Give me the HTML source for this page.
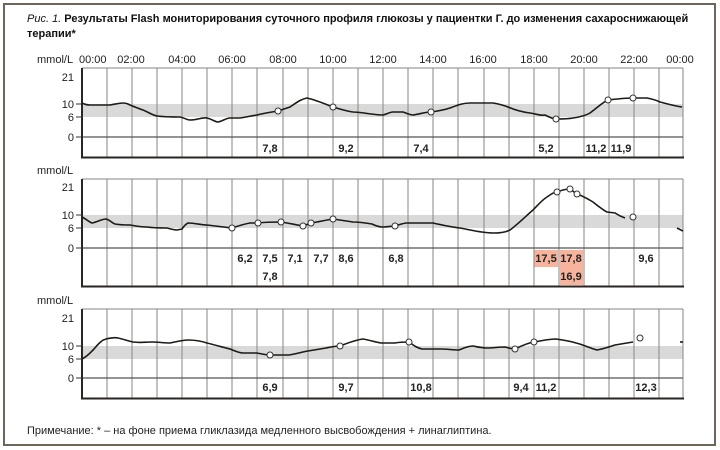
<!DOCTYPE html>
<html><head><meta charset="utf-8"><style>
html,body{margin:0;padding:0;background:#fff;}
svg{display:block;font-family:"Liberation Sans",Arial,sans-serif;}
</style></head><body>
<svg width="720" height="450" viewBox="0 0 720 450" xmlns="http://www.w3.org/2000/svg">
<rect x="4" y="4" width="711" height="441" fill="#fff" stroke="#6e665a" stroke-width="2"/>
<text x="27" y="22" font-size="11" fill="#111"><tspan font-style="italic">Рис. 1.</tspan><tspan font-weight="bold"> Результаты Flash мониторирования суточного профиля глюкозы у пациентки Г. до изменения сахароснижающей</tspan></text>
<text x="27" y="37" font-size="11" font-weight="bold" fill="#111">терапии*</text>
<g font-size="11" fill="#222">
<text x="37" y="63">mmol/L</text>
<text x="79" y="63">00:00</text>
<text x="131" y="63" text-anchor="middle">02:00</text>
<text x="182" y="63" text-anchor="middle">04:00</text>
<text x="232" y="63" text-anchor="middle">06:00</text>
<text x="283" y="63" text-anchor="middle">08:00</text>
<text x="333" y="63" text-anchor="middle">10:00</text>
<text x="383" y="63" text-anchor="middle">12:00</text>
<text x="433" y="63" text-anchor="middle">14:00</text>
<text x="483" y="63" text-anchor="middle">16:00</text>
<text x="534" y="63" text-anchor="middle">18:00</text>
<text x="584" y="63" text-anchor="middle">20:00</text>
<text x="634" y="63" text-anchor="middle">22:00</text>
<text x="680" y="63" text-anchor="middle">00:00</text>
<text x="37" y="174">mmol/L</text>
<text x="37" y="304">mmol/L</text>
</g>

<!-- PANEL 1 -->
<g>
<rect x="83" y="104" width="600" height="13" fill="#d9d9d9"/>
<g stroke="#8a8580" stroke-width="1">
<path d="M107 68V157M132 68V157M157 68V157M182 68V157M207 68V157M232 68V157M257 68V157M283 68V157M308 68V157M333 68V157M358 68V157M383 68V157M408 68V157M433 68V157M458 68V157M484 68V157M509 68V157M534 68V157M559 68V157M584 68V157M609 68V157M634 68V157M659 68V157M683 68V157"/>
<path d="M82 68H683"/>
</g>
<path d="M82 137H683" stroke="#555" stroke-width="1.3"/>
<path d="M82 68V158M81 157.5H684" stroke="#2a2520" stroke-width="2" fill="none"/>
<path d="M76 104H82M76 117H82M76 137H82" stroke="#333" stroke-width="1"/>
<g font-size="11" fill="#222" text-anchor="end"><text x="74" y="81">21</text><text x="74" y="108">10</text><text x="74" y="121">6</text><text x="74" y="141">0</text></g>
<path d="M82 103 C86 105 88 105 90 105 L110 105 C116 104 120 103 123 103 C127 103 128 104 130 105 C135 107 140 109 143 110 C148 112 152 115 157 116 C165 117 173 117 180 117 C185 118 187 120 190 120 C197 120 203 117 207 118 C212 119 215 122 218 122 C223 121 226 118 230 118 L240 118 C246 117 251 116 257 115 C265 113 272 112 278 111 C284 109 287 108 290 107 C296 103 301 99 307 98 C316 100 325 104 333 107 C340 109 346 111 353 112 C362 112 372 115 383 115 C387 114 390 112 393 112 L403 112 C406 113 410 115 413 115 C420 114 425 112 431 112 C438 111 444 110 450 108 C458 105 463 103 470 103 L493 103 C499 104 503 105 508 107 C515 110 522 112 530 113 C537 114 541 116 545 115 C549 117 553 119 556 119 C563 119 568 119 573 118 C580 117 585 116 590 113 C597 108 603 102 608 100 C617 99 625 98 633 98 L647 98 C652 99 656 100 660 102 C668 104 675 106 682 107" fill="none" stroke="#1e1a15" stroke-width="1.6"/>
<g fill="#fff" stroke="#333" stroke-width="1"><circle cx="278" cy="111" r="3"/><circle cx="333" cy="107" r="3"/><circle cx="431" cy="112" r="3"/><circle cx="556" cy="119" r="3"/><circle cx="608" cy="100" r="3"/><circle cx="633" cy="98" r="3"/></g>
<g font-size="11" font-weight="bold" fill="#222" text-anchor="middle"><text x="270" y="152">7,8</text><text x="346" y="152">9,2</text><text x="421" y="152">7,4</text><text x="546" y="152">5,2</text><text x="596" y="152">11,2</text><text x="621" y="152">11,9</text></g>
</g>

<!-- PANEL 2 -->
<g>
<rect x="83" y="215" width="600" height="13" fill="#d9d9d9"/>
<rect x="534" y="250" width="24" height="17" fill="#f7b39c"/>
<rect x="560" y="250" width="23" height="35" fill="#f7b39c"/>
<g stroke="#8a8580" stroke-width="1">
<path d="M107 179V286M132 179V286M157 179V286M182 179V286M207 179V286M232 179V286M257 179V286M283 179V286M308 179V286M333 179V286M358 179V286M383 179V286M408 179V286M433 179V286M458 179V286M484 179V286M509 179V286M534 179V286M559 179V286M584 179V286M609 179V286M634 179V286M659 179V286M683 179V286"/>
<path d="M82 179H683"/>
</g>
<path d="M82 248H683" stroke="#555" stroke-width="1.3"/>
<path d="M82 179V287M81 286.5H684" stroke="#2a2520" stroke-width="2" fill="none"/>
<path d="M76 215H82M76 228H82M76 248H82" stroke="#333" stroke-width="1"/>
<g font-size="11" fill="#222" text-anchor="end"><text x="74" y="191">21</text><text x="74" y="219">10</text><text x="74" y="232">6</text><text x="74" y="252">0</text></g>
<path d="M82 217 C86 219 89 222 92 223 C97 222 102 219 106 219 C110 220 112 223 115 224 C120 225 125 225 130 225 C136 226 141 227 147 227 C154 228 161 228 167 228 C171 229 174 230 177 230 L182 229 C184 226 186 224 188 223 C195 223 201 225 207 225 C215 226 224 227 232 228 C238 226 244 224 250 223 L258 223 C266 222 274 222 281 222 C289 223 296 225 303 226 C306 225 308 224 311 223 C318 222 326 220 333 219 C340 220 346 221 353 222 C360 222 366 223 372 224 C376 226 380 227 383 227 C388 227 391 226 395 226 C399 225 403 223 407 223 L433 223 C442 225 451 227 460 228 C471 230 482 233 493 233 C500 233 506 232 510 230 C518 224 526 216 533 210 C538 205 542 200 547 197 C551 194 554 192 557 192 C562 190 566 189 570 189 C573 191 575 193 577 194 C583 196 588 199 593 202 C598 206 603 210 607 212 L615 213 C618 215 622 217 625 218" fill="none" stroke="#1e1a15" stroke-width="1.6"/>
<path d="M677 228 L683 231" stroke="#1e1a15" stroke-width="1.6"/>
<g fill="#fff" stroke="#333" stroke-width="1"><circle cx="232" cy="228" r="3"/><circle cx="258" cy="223" r="3"/><circle cx="281" cy="222" r="3"/><circle cx="303" cy="226" r="3"/><circle cx="311" cy="223" r="3"/><circle cx="333" cy="219" r="3"/><circle cx="395" cy="226" r="3"/><circle cx="557" cy="192" r="3"/><circle cx="570" cy="189" r="3"/><circle cx="577" cy="194" r="3"/><circle cx="633" cy="217" r="3"/></g>
<g font-size="11" font-weight="bold" fill="#222" text-anchor="middle"><text x="245" y="262">6,2</text><text x="270" y="262">7,5</text><text x="270" y="280">7,8</text><text x="295" y="262">7,1</text><text x="321" y="262">7,7</text><text x="346" y="262">8,6</text><text x="396" y="262">6,8</text><text x="546" y="262">17,5</text><text x="571" y="262">17,8</text><text x="571" y="280">16,9</text><text x="646" y="262">9,6</text></g>
</g>

<!-- PANEL 3 -->
<g>
<rect x="83" y="346" width="600" height="13" fill="#d9d9d9"/>
<g stroke="#8a8580" stroke-width="1">
<path d="M107 309V398M132 309V398M157 309V398M182 309V398M207 309V398M232 309V398M257 309V398M283 309V398M308 309V398M333 309V398M358 309V398M383 309V398M408 309V398M433 309V398M458 309V398M484 309V398M509 309V398M534 309V398M559 309V398M584 309V398M609 309V398M634 309V398M659 309V398M683 309V398"/>
<path d="M82 309H683"/>
</g>
<path d="M82 378H683" stroke="#555" stroke-width="1.3"/>
<path d="M82 309V399M81 398.5H684" stroke="#2a2520" stroke-width="2" fill="none"/>
<path d="M76 346H82M76 359H82M76 378H82" stroke="#333" stroke-width="1"/>
<g font-size="11" fill="#222" text-anchor="end"><text x="74" y="322">21</text><text x="74" y="350">10</text><text x="74" y="363">6</text><text x="74" y="382">0</text></g>
<path d="M82 359 C88 356 91 352 94 349 C99 343 102 340 106 339 C110 338 114 337 118 338 C123 339 128 341 133 342 C140 343 146 342 152 342 C158 342 164 343 170 343 C176 342 182 340 188 340 C195 340 201 341 207 343 C215 345 222 347 230 349 C235 351 239 353 243 353 L257 353 C262 354 266 355 270 355 L289 355 C296 354 302 352 308 351 C314 350 320 349 326 348 C331 347 335 346 340 346 C348 343 355 340 363 339 C369 340 375 342 381 343 L395 343 C400 342 404 342 409 342 C413 345 417 348 422 349 L441 349 C447 349 453 350 459 350 C464 348 468 346 473 346 C478 347 482 348 487 348 C493 348 499 347 505 347 C509 348 512 349 515 349 C521 346 528 343 534 342 C541 341 548 339 556 339 C563 340 570 341 576 343 C584 345 590 348 597 350 C603 349 609 347 615 345 C621 344 627 343 633 342" fill="none" stroke="#1e1a15" stroke-width="1.6"/>
<path d="M680 342 L683 342" stroke="#1e1a15" stroke-width="1.6"/>
<g fill="#fff" stroke="#333" stroke-width="1"><circle cx="270" cy="355" r="3"/><circle cx="340" cy="346" r="3"/><circle cx="409" cy="342" r="3"/><circle cx="515" cy="349" r="3"/><circle cx="534" cy="342" r="3"/><circle cx="640" cy="338" r="3"/></g>
<g font-size="11" font-weight="bold" fill="#222" text-anchor="middle"><text x="270" y="391">6,9</text><text x="346" y="391">9,7</text><text x="421" y="391">10,8</text><text x="521" y="391">9,4</text><text x="546" y="391">11,2</text><text x="646" y="391">12,3</text></g>
</g>

<text x="27" y="434" font-size="11" fill="#222">Примечание: * – на фоне приема гликлазида медленного высвобождения + линаглиптина.</text>
</svg>
</body></html>
